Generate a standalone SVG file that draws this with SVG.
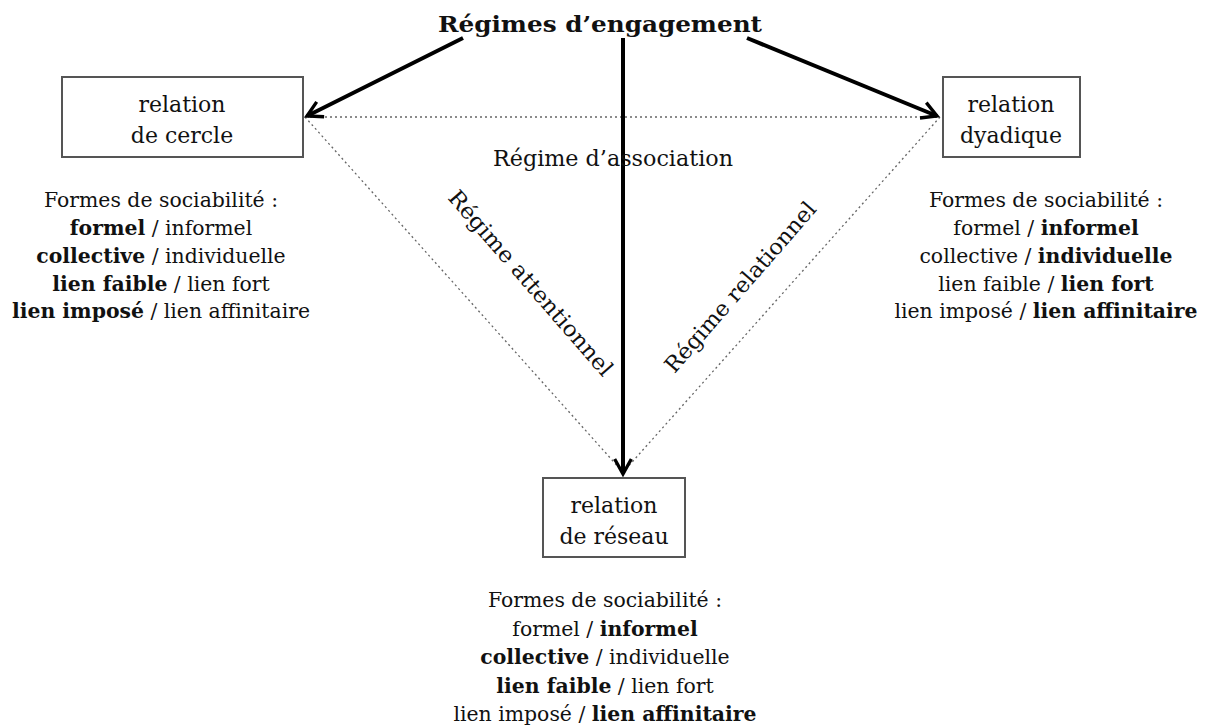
<svg xmlns="http://www.w3.org/2000/svg" width="1209" height="728" viewBox="0 0 1209 728">
<style>
text{font-family:"DejaVu Serif","Liberation Serif",serif;fill:#111;}
.box{fill:#fff;stroke:#555;stroke-width:2;}
.lbl{font-size:22px;text-anchor:middle;}
.body{font-size:20.4px;text-anchor:middle;}
.b{font-weight:bold;}
.arr{stroke:#000;stroke-width:4;fill:none;}
.dot{stroke:#666;stroke-width:1.3;stroke-dasharray:2 3;fill:none;}
</style>
<defs>
<marker id="ah" viewBox="0 0 12 12" refX="10" refY="6" markerWidth="5" markerHeight="5" orient="auto" markerUnits="strokeWidth">
<path d="M1,1 L10,6 L1,11" fill="none" stroke="#000" stroke-width="2"/>
</marker>
</defs>
<rect width="1209" height="728" fill="#fff"/>
<g id="connectors">
<line class="dot" x1="305" y1="117" x2="940" y2="117"/>
<line class="dot" x1="305" y1="117" x2="621" y2="470"/>
<line class="dot" x1="940" y1="117" x2="625" y2="470"/>
<line class="arr" x1="463" y1="38" x2="307" y2="116" marker-end="url(#ah)"/>
<line class="arr" x1="747" y1="38" x2="937" y2="116" marker-end="url(#ah)"/>
<line class="arr" x1="623" y1="38" x2="623" y2="474" marker-end="url(#ah)"/>
</g>
<g id="title">
<text x="600" y="32" font-size="22" font-weight="bold" text-anchor="middle" textLength="324" lengthAdjust="spacingAndGlyphs">Régimes d’engagement</text>
</g>
<g id="labels">
<text x="613" y="166" class="lbl" textLength="240" lengthAdjust="spacingAndGlyphs">Régime d’association</text>
<text class="lbl" transform="translate(525,288) rotate(49)" textLength="238" lengthAdjust="spacingAndGlyphs">Régime attentionnel</text>
<text class="lbl" transform="translate(746,292) rotate(-49)" textLength="218" lengthAdjust="spacingAndGlyphs">Régime relationnel</text>
</g>
<g id="node-cercle">
<rect class="box" x="62" y="77" width="241" height="80"/>
<text class="lbl" x="182" y="112">relation</text>
<text class="lbl" x="182" y="143">de cercle</text>
<text class="body" x="161" y="207">Formes de sociabilité :</text>
<text class="body" x="161" y="235"><tspan class="b">formel</tspan> / informel</text>
<text class="body" x="161" y="263"><tspan class="b">collective</tspan> / individuelle</text>
<text class="body" x="161" y="291"><tspan class="b">lien faible</tspan> / lien fort</text>
<text class="body" x="161" y="318"><tspan class="b">lien imposé</tspan> / lien affinitaire</text>
</g>
<g id="node-dyadique">
<rect class="box" x="943" y="77" width="137" height="80"/>
<text class="lbl" x="1011" y="112">relation</text>
<text class="lbl" x="1011" y="143">dyadique</text>
<text class="body" x="1046" y="207">Formes de sociabilité :</text>
<text class="body" x="1046" y="235">formel / <tspan class="b">informel</tspan></text>
<text class="body" x="1046" y="263">collective / <tspan class="b">individuelle</tspan></text>
<text class="body" x="1046" y="291">lien faible / <tspan class="b">lien fort</tspan></text>
<text class="body" x="1046" y="318">lien imposé / <tspan class="b">lien affinitaire</tspan></text>
</g>
<g id="node-reseau">
<rect class="box" x="543" y="478" width="142" height="79"/>
<text class="lbl" x="614" y="513">relation</text>
<text class="lbl" x="614" y="544">de réseau</text>
<text class="body" x="605" y="607">Formes de sociabilité :</text>
<text class="body" x="605" y="636">formel / <tspan class="b">informel</tspan></text>
<text class="body" x="605" y="664"><tspan class="b">collective</tspan> / individuelle</text>
<text class="body" x="605" y="693"><tspan class="b">lien faible</tspan> / lien fort</text>
<text class="body" x="605" y="721">lien imposé / <tspan class="b">lien affinitaire</tspan></text>
</g>
</svg>
